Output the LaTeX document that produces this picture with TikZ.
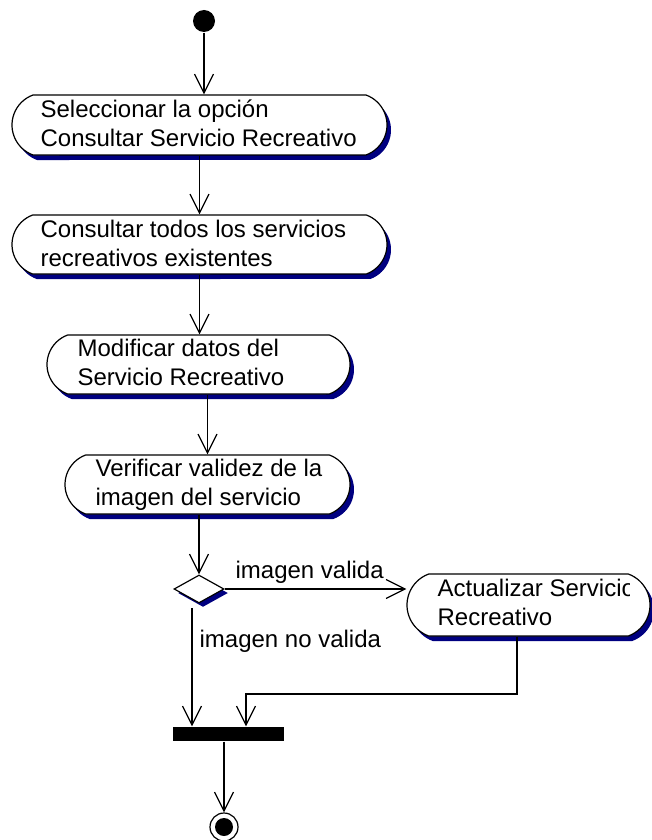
\documentclass[tikz,border=0pt]{standalone}
\usepackage{fontspec}
\setmainfont{Liberation Sans}
\usetikzlibrary{arrows.meta,shapes.geometric,shapes.misc,shadows}
\definecolor{navyc}{RGB}{0,0,128}
\begin{document}
\begin{tikzpicture}[x=1pt,y=-1pt, line width=1.2pt,
  font=\fontsize{24}{28.8}\selectfont,
  arr/.style={-{Straight Barb[length=19pt,width=19pt]}},
  actbox/.style={draw, fill=white, rounded rectangle, rounded rectangle arc length=140, inner sep=0,
    general shadow={fill=navyc, shadow xshift=4pt, shadow yshift=-5pt}},
  lbl/.style={anchor=north west, inner sep=0, align=left},
  flowlbl/.style={anchor=base west, inner sep=0}]
\useasboundingbox (0,0) rectangle (651,840);
% start
\node[circle, fill, minimum size=22pt, inner sep=0] (start) at (204,21) {};
% activities
\node[actbox, minimum width=375pt, minimum height=60pt] (b1) at (199.5,125) {};
\node[lbl] (t1) at (40,96.84) {\strut Seleccionar la opción\\Consultar Servicio Recreativo};
\node[actbox, minimum width=375pt, minimum height=59pt] (b2) at (199.5,244.5) {};
\node[lbl] (t2) at (40,216.84) {\strut Consultar todos los servicios\\recreativos existentes};
\node[actbox, minimum width=303pt, minimum height=59pt] (b3) at (198.5,364.5) {};
\node[lbl] (t3) at (77,335.84) {\strut Modificar datos del\\Servicio Recreativo};
\node[actbox, minimum width=285pt, minimum height=59pt] (b4) at (207.5,484.5) {};
\node[lbl] (t4) at (95,455.84) {\strut Verificar validez de la\\imagen del servicio};
\node[actbox, minimum width=243pt, minimum height=62pt] (b5) at (528.5,605) {};
\begin{scope}
\clip (407,570) rectangle (629,640);
\node[lbl] (t5) at (437,575.84) {\strut Actualizar Servicio\\Recreativo};
\end{scope}
% decision
\node[diamond, aspect=1.786, draw, fill=white, minimum width=50pt, minimum height=28pt, inner sep=0,
  general shadow={fill=navyc, shadow xshift=4pt, shadow yshift=-4pt}] (d) at (199,589) {};
% join bar
\node[fill, minimum width=111pt, minimum height=14pt, inner sep=0] (bar) at (228.5,734) {};
% end
\node[circle, draw, minimum size=28pt, inner sep=0] (end) at (224,827) {};
\fill (end.center) circle (9);
% labels
\node[flowlbl] (lv) at (235,578) {imagen valida};
\node[flowlbl] (lnv) at (199,647) {imagen no valida};
% connectors
\coordinate (nv) at (192,608);
\coordinate (j1) at (517,694);
\coordinate (j2) at (246,694);
\draw[arr] (start) -- (start |- b1.north);
\draw[arr] (b1.south) -- (b2.north);
\draw[arr] (b2.south) -- (b2.south |- b3.north);
\draw[arr] (b4.north |- b3.south) -- (b4.north);
\draw[arr] (d.north |- b4.south) -- (d.north);
\draw[arr] (d.east) -- (d.east -| b5.west);
\draw[arr] (nv) -- (nv |- bar.north);
\draw[arr] (j1 |- b5.south) -- (j1) -- (j2) -- (j2 |- bar.north);
\draw[arr] (end.north |- bar.south) -- (end.north);
\end{tikzpicture}
\end{document}
